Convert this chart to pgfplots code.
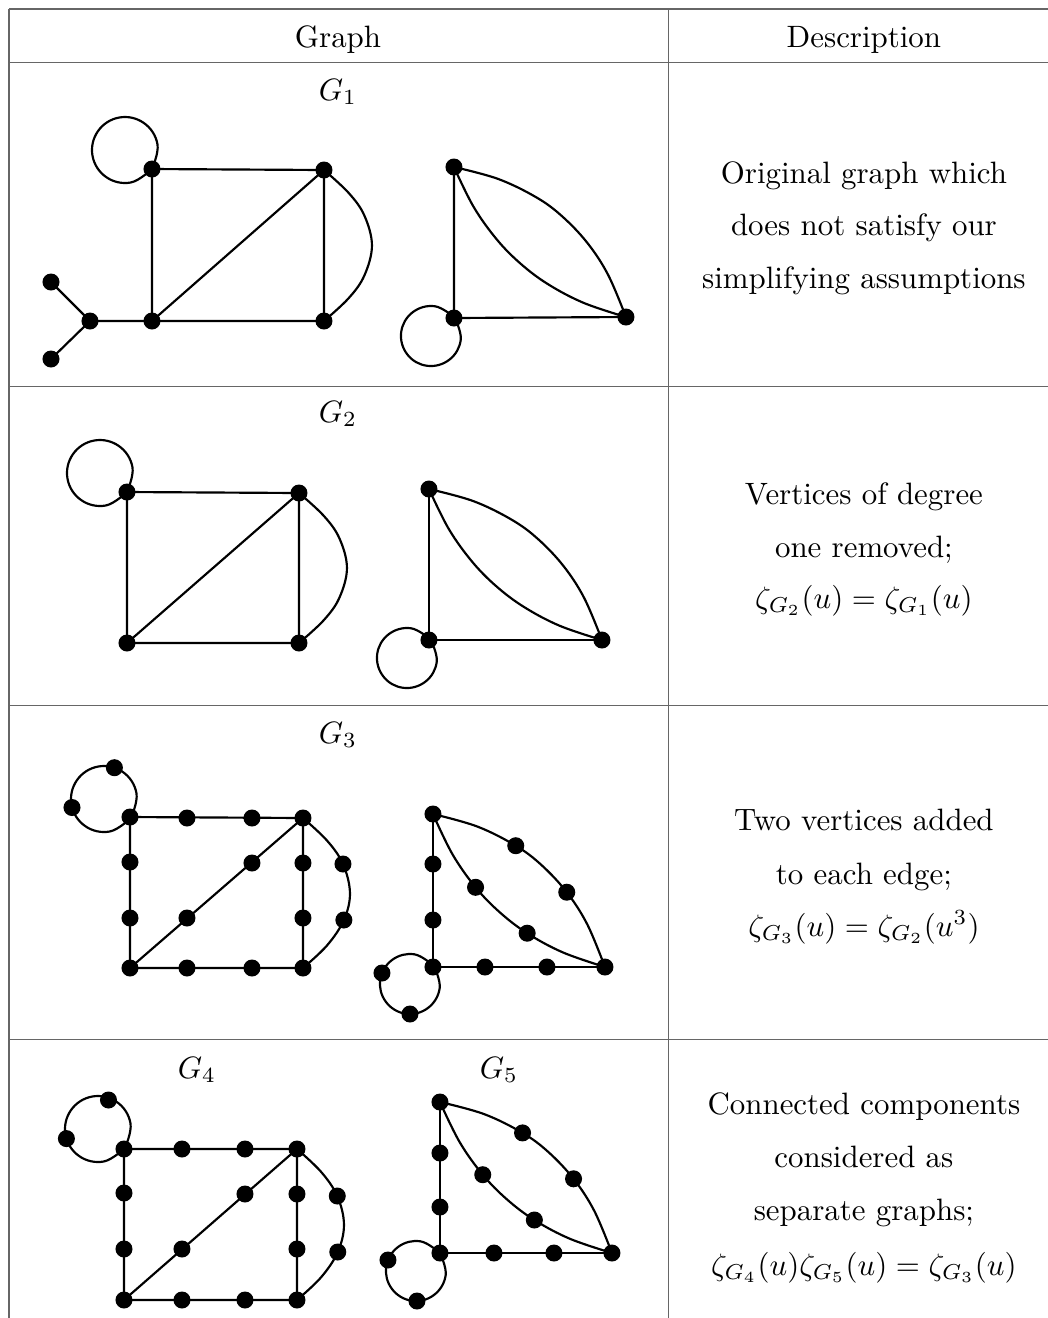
\documentclass[border=0pt]{standalone}
\usepackage{pgfplots}
\pgfplotsset{compat=1.18}
\begin{document}
\begin{tikzpicture}
\pgfplotsset{
  gedge/.style={black, line width=0.7pt, no markers},
  gcurve/.style={gedge, smooth, tension=0.6},
  gloop/.style={gedge, smooth, tension=0.68},
  gdot/.style={only marks, mark=*, mark size=2.55pt, black, fill=black},
  tabline/.style={black!60, line width=0.45pt, no markers},
}
% one axis in pixel units of the reference, y pointing down
\begin{axis}[scale only axis, width=339.1pt, height=426.5pt,
  xmin=0, xmax=1048, ymin=0, ymax=1318, y dir=reverse,
  axis lines=none, clip=false]

% table rules
\addplot[tabline] coordinates {(9,9) (1048,9)};
\addplot[tabline] coordinates {(9,62.3) (1048,62.3)};
\addplot[tabline] coordinates {(9,386.6) (1048,386.6)};
\addplot[tabline] coordinates {(9,705.5) (1048,705.5)};
\addplot[tabline] coordinates {(9,1039.5) (1048,1039.5)};
\addplot[tabline] coordinates {(9,9) (9,1318)};
\addplot[tabline] coordinates {(668.3,9) (668.3,1318)};

% header
\node[anchor=base] at (axis cs:338,47) {Graph};
\node[anchor=base] at (axis cs:864,47) {Description};

% ---------- G1 ----------
\node[anchor=base] at (axis cs:338,100) {$G_1$};
\addplot[gedge] coordinates {(51,282) (90,321) (51,359)};
\addplot[gedge] coordinates {(90,321) (152,321) (324,321) (324,170) (152,169) (152,321) (324,170)};
\addplot[gcurve] coordinates {(324,170) (348.5,192.7) (364.3,215.3) (372,245.5) (364.3,275.7) (348.5,298.4) (324,321)};
\addplot[gloop] coordinates {(152.0,168.9) (130.7,182.5) (106.1,177.0) (92.5,155.7) (98.0,131.1) (119.3,117.5) (143.9,123.0) (157.5,144.3) (152.0,168.9)};
\addplot[gedge] coordinates {(454,167) (454,318) (626,317)};
\addplot[gcurve] coordinates {(454,167) (498.1,178.9) (536.5,197.4) (562.3,216.4) (587.5,243.0) (608.2,274.9) (626,317)};
\addplot[gcurve] coordinates {(454,167) (473.7,206.9) (496.8,239.4) (520.9,263.9) (548.4,284.4) (583.8,302.9) (626,317)};
\addplot[gloop] coordinates {(454.6,317.5) (460.8,339.7) (449.5,359.6) (427.3,365.8) (407.4,354.5) (401.2,332.3) (412.5,312.4) (434.7,306.2) (454.6,317.5)};
\addplot[gdot] coordinates {(152,169) (324,170) (152,321) (324,321) (90,321) (51,282) (51,359) (454,167) (454,318) (626,317)};
\node[anchor=base] at (axis cs:864,183) {Original graph which};
\node[anchor=base] at (axis cs:864,235.5) {does not satisfy our};
\node[anchor=base] at (axis cs:864,288) {simplifying assumptions};

% ---------- G2 ----------
\node[anchor=base] at (axis cs:338,422) {$G_2$};
\addplot[gedge] coordinates {(299,493) (127,492) (127,643) (299,643) (299,493) (127,643)};
\addplot[gcurve] coordinates {(299,493) (323.5,515.5) (339.3,538) (347,568) (339.3,598) (323.5,620.5) (299,643)};
\addplot[gloop] coordinates {(127.0,491.9) (105.7,505.5) (81.1,500.0) (67.5,478.7) (73.0,454.1) (94.3,440.5) (118.9,446.0) (132.5,467.3) (127.0,491.9)};
\addplot[gedge] coordinates {(429,489) (429,640) (602,640)};
\addplot[gcurve] coordinates {(429,489) (473.4,501.1) (511.9,519.8) (537.9,538.9) (563.3,565.7) (584.1,597.7) (602,640)};
\addplot[gcurve] coordinates {(429,489) (448.9,529.1) (472.2,561.7) (496.4,586.3) (524.1,607.0) (559.6,625.7) (602,640)};
\addplot[gloop] coordinates {(430.6,639.5) (436.8,661.7) (425.5,681.6) (403.3,687.8) (383.4,676.5) (377.2,654.3) (388.5,634.4) (410.7,628.2) (430.6,639.5)};
\addplot[gdot] coordinates {(127,492) (299,493) (127,643) (299,643) (429,489) (429,640) (602,640)};
\node[anchor=base] at (axis cs:864,504) {Vertices of degree};
\node[anchor=base] at (axis cs:864,557) {one removed;};
\node[anchor=base] at (axis cs:864,608) {$\zeta_{G_2}(u)=\zeta_{G_1}(u)$};

% ---------- G3 ----------
\node[anchor=base] at (axis cs:338,743) {$G_3$};
\addplot[gedge] coordinates {(303,818) (130,817) (130,968) (303,968) (303,818) (130,968)};
\addplot[gcurve] coordinates {(303,818) (327.0,840.5) (343.0,864.0) (350,893) (343.9,920.0) (327.0,945.5) (303,968)};
\addplot[gloop] coordinates {(131.0,817.9) (109.7,831.5) (85.1,826.0) (71.5,804.7) (77.0,780.1) (98.3,766.5) (122.9,772.0) (136.5,793.3) (131.0,817.9)};
\addplot[gedge] coordinates {(433,814) (433,967) (605,967)};
\addplot[gcurve] coordinates {(433,814) (477.3,826.5) (515.8,845.7) (541.6,865.1) (566.8,892.2) (587.4,924.5) (605,967)};
\addplot[gcurve] coordinates {(433,814) (452.6,854.4) (475.6,887.3) (499.7,912.2) (527.2,933.2) (562.7,952.3) (605,967)};
\addplot[gloop] coordinates {(434.1,966.2) (439.7,988.4) (427.8,1008.1) (405.6,1013.7) (385.9,1001.8) (380.3,979.6) (392.2,959.9) (414.4,954.3) (434.1,966.2)};
\addplot[gdot] coordinates {(130,817) (303,818) (130,968) (303,968) (187,818) (252,818)
  (130,862) (130,918) (187,968) (252,968) (252,863) (187,918) (303,863) (303,918)
  (343.0,864) (343.9,920) (72,807.5) (114.4,767.7)
  (433,814) (433,967) (605,967) (433,864) (433,920) (485,967) (547,967)
  (515.8,845.7) (566.8,892.2) (475.6,887.3) (527.2,933.2) (382,973) (410,1014)};
\node[anchor=base] at (axis cs:864,830) {Two vertices added};
\node[anchor=base] at (axis cs:864,884) {to each edge;};
\node[anchor=base] at (axis cs:864,936) {$\zeta_{G_3}(u)=\zeta_{G_2}(u^3)$};

% ---------- G4 and G5 ----------
\node[anchor=base] at (axis cs:197,1078) {$G_4$};
\node[anchor=base] at (axis cs:499,1078) {$G_5$};
\addplot[gedge] coordinates {(297,1149) (124,1149) (124,1300) (297,1300) (297,1149) (124,1300)};
\addplot[gcurve] coordinates {(297,1149) (321.0,1171.7) (337.3,1196) (344,1224.5) (337.8,1252) (321.0,1277.4) (297,1300)};
\addplot[gloop] coordinates {(125.0,1147.9) (103.7,1161.5) (79.1,1156.0) (65.5,1134.7) (71.0,1110.1) (92.3,1096.5) (116.9,1102.0) (130.5,1123.3) (125.0,1147.9)};
\addplot[gedge] coordinates {(440,1102) (440,1253) (612,1253)};
\addplot[gcurve] coordinates {(440,1102) (484.2,1114.1) (522.6,1132.9) (548.4,1152.0) (573.6,1178.8) (594.3,1210.8) (612,1253)};
\addplot[gcurve] coordinates {(440,1102) (459.7,1142.1) (482.8,1174.7) (506.9,1199.3) (534.4,1220.0) (569.8,1238.7) (612,1253)};
\addplot[gloop] coordinates {(440.1,1253.2) (445.7,1275.4) (433.8,1295.1) (411.6,1300.7) (391.9,1288.8) (386.3,1266.6) (398.2,1246.9) (420.4,1241.3) (440.1,1253.2)};
\addplot[gdot] coordinates {(124,1149) (297,1149) (124,1300) (297,1300) (182,1149) (245,1149)
  (124,1193) (124,1249) (182,1300) (245,1300) (245,1194) (182,1249) (297,1194) (297,1249)
  (337.3,1196) (337.8,1252) (66.4,1138.6) (108.5,1100)
  (440,1102) (440,1253) (612,1253) (440,1153) (440,1207) (494,1253) (554,1253)
  (522.6,1132.9) (573.6,1178.8) (482.8,1174.7) (534.4,1220.0) (388,1260) (417,1301)};
\node[anchor=base] at (axis cs:864,1114) {Connected components};
\node[anchor=base] at (axis cs:864,1167) {considered as};
\node[anchor=base] at (axis cs:864,1220) {separate graphs;};
\node[anchor=base] at (axis cs:864,1275) {$\zeta_{G_4}(u)\zeta_{G_5}(u)=\zeta_{G_3}(u)$};
\end{axis}
\pgfresetboundingbox
\path (current axis.south west) rectangle (current axis.north east);
\end{tikzpicture}
\end{document}
